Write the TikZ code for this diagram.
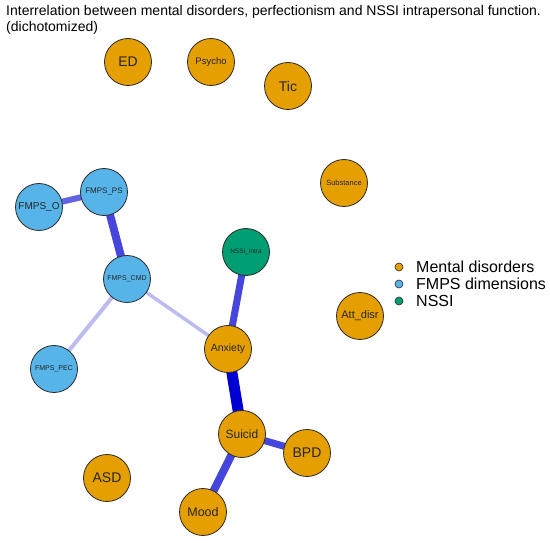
\documentclass[tikz,border=0pt]{standalone}
\usepackage{fontspec}
\setmainfont{Liberation Sans}
\usetikzlibrary{backgrounds}
\definecolor{mdis}{HTML}{E69F00}
\definecolor{fmps}{HTML}{56B4E9}
\definecolor{nssi}{HTML}{009E73}
\definecolor{bordc}{HTML}{2A2A2A}
\definecolor{eA}{HTML}{0000D2}
\definecolor{eB}{HTML}{4646DC}
\definecolor{eC}{HTML}{6464E2}
\definecolor{eL}{HTML}{BCBCF0}
\tikzset{
  vert/.style={circle, draw=bordc, line width=0.8pt, minimum size=47pt, inner sep=0pt, text=black!85},
  md/.style={vert, fill=mdis},
  fm/.style={vert, fill=fmps},
  ns/.style={vert, fill=nssi},
  edg/.style={line cap=butt},
  ldot/.style={circle, draw=bordc, line width=0.6pt, minimum size=8pt, inner sep=0pt},
  ltext/.style={anchor=west, font=\fontsize{16}{18}\selectfont, inner sep=0pt},
}
\begin{document}
\begin{tikzpicture}[x=1pt,y=-1pt]
\useasboundingbox (0,0) rectangle (550,543);
\node[anchor=north west, align=left, inner sep=0pt, font=\fontsize{14}{16}\selectfont] (title) at (6,5)
  {Interrelation between mental disorders, perfectionism and NSSI intrapersonal function.\\(dichotomized)};
% nodes
\node[md, font=\fontsize{14}{16}\selectfont] (ED) at (128,62) {ED};
\node[md, font=\fontsize{9.5}{11}\selectfont] (Psycho) at (211,62) {Psycho};
\node[md, font=\fontsize{14}{16}\selectfont] (Tic) at (288,86) {Tic};
\node[md, font=\fontsize{7.5}{9}\selectfont] (Substance) at (344,183) {Substance};
\node[fm, font=\fontsize{10}{12}\selectfont] (FO) at (39,207) {FMPS\_O};
\node[fm, font=\fontsize{8}{10}\selectfont] (FPS) at (104,192) {FMPS\_PS};
\node[fm, font=\fontsize{7}{9}\selectfont] (FCMD) at (127,279) {FMPS\_CMD};
\node[fm, font=\fontsize{7}{9}\selectfont] (FPEC) at (54,369) {FMPS\_PEC};
\node[ns, font=\fontsize{6.5}{8}\selectfont] (NSSI) at (246,252) {NSSI\_intra};
\node[md, font=\fontsize{10.5}{12}\selectfont] (Anx) at (228,349) {Anxiety};
\node[md, font=\fontsize{11}{13}\selectfont] (Att) at (360,316) {Att\_disr};
\node[md, font=\fontsize{12}{14}\selectfont] (Sui) at (242,434) {Suicid};
\node[md, font=\fontsize{14}{16}\selectfont] (BPD) at (307,453) {BPD};
\node[md, font=\fontsize{14}{16}\selectfont] (ASD) at (107,478) {ASD};
\node[md, font=\fontsize{12.5}{14}\selectfont] (Mood) at (203,512) {Mood};
% edges
\begin{pgfonlayer}{background}
\fill[white] (0,0) rectangle (550,543);
\draw[edg, eC, line width=6pt] (FO.center) -- (FPS.center);
\draw[edg, eB, line width=8pt] (FPS.center) -- (FCMD.center);
\draw[edg, eL, line width=4pt] (FCMD.center) -- (FPEC.center);
\draw[edg, eL, line width=3.5pt] (FCMD.center) -- (Anx.center);
\draw[edg, eB, line width=7pt] (NSSI.center) -- (Anx.center);
\draw[edg, eA, line width=11pt] (Anx.center) -- (Sui.center);
\draw[edg, eB, line width=7pt] (Sui.center) -- (BPD.center);
\draw[edg, eB, line width=8pt] (Sui.center) -- (Mood.center);
\end{pgfonlayer}
% legend
\node[ldot, fill=mdis] (l1) at (399,267) {};
\node[ldot, fill=fmps] (l2) at (399,284) {};
\node[ldot, fill=nssi] (l3) at (399,301) {};
\node[ltext] (t1) at (416,267) {Mental disorders};
\node[ltext] (t2) at (416,284) {FMPS dimensions};
\node[ltext] (t3) at (416,301) {NSSI};
\end{tikzpicture}
\end{document}
